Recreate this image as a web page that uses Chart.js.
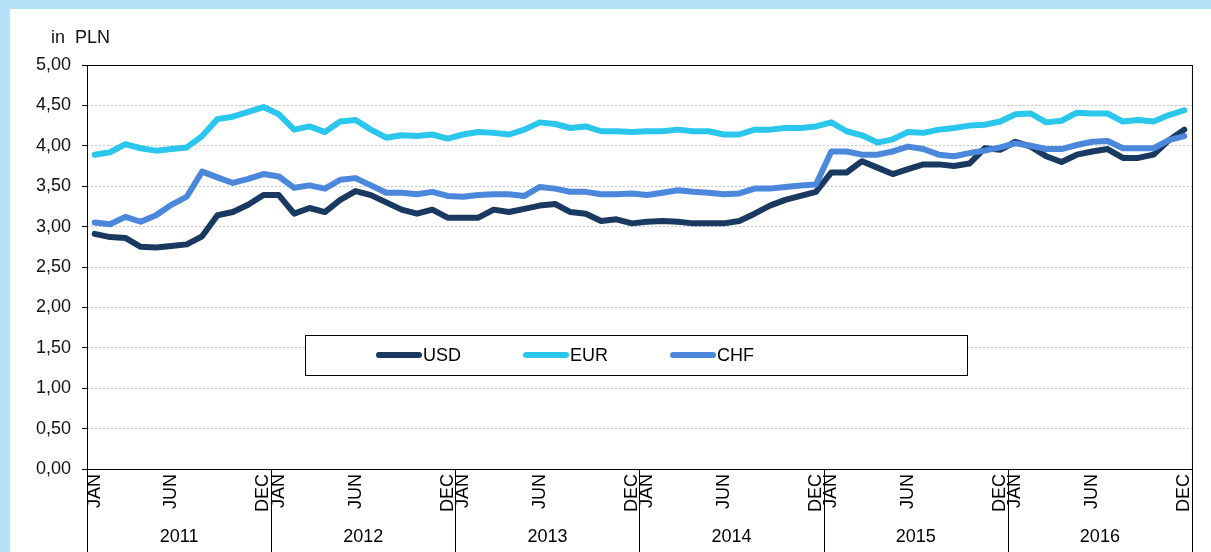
<!DOCTYPE html>
<html lang="en">

<head>
  <meta charset="UTF-8">
  <title>Exchange rates in PLN</title>
  <script src="https://cdn.jsdelivr.net/npm/chart.js"></script>
  <style>
    html, body { margin: 0; padding: 0; }
    body { background: #b5e0f7; width: 1211px; height: 552px; overflow: hidden; position: relative; }
    .panel { position: absolute; left: 10px; top: 9px; width: 1201px; height: 543px; background: #fff; }
  </style>
</head>

<body>
  <div class="panel">
    <canvas id="rates" width="1201" height="543"></canvas>
  </div>

  <script>
    // data (monthly averages, PLN)
    const years = ['2011', '2012', '2013', '2014', '2015', '2016'];
    const monthNames = ['JAN', '', '', '', '', 'JUN', '', '', '', '', '', 'DEC'];

    const usd = [
      2.91, 2.87, 2.86, 2.75, 2.74, 2.76, 2.78, 2.88, 3.14, 3.18, 3.27, 3.39,
      3.39, 3.16, 3.23, 3.18, 3.33, 3.44, 3.39, 3.30, 3.21, 3.16, 3.21, 3.11,
      3.11, 3.11, 3.21, 3.18, 3.22, 3.26, 3.28, 3.18, 3.16, 3.07, 3.09, 3.04,
      3.06, 3.07, 3.06, 3.04, 3.04, 3.04, 3.07, 3.16, 3.26, 3.33, 3.38, 3.43,
      3.67, 3.67, 3.81, 3.73, 3.65, 3.71, 3.77, 3.77, 3.75, 3.78, 3.97, 3.95,
      4.05, 3.99, 3.87, 3.80, 3.89, 3.93, 3.96, 3.85, 3.85, 3.89, 4.07, 4.20
    ];
    const eur = [
      3.89, 3.92, 4.02, 3.97, 3.94, 3.96, 3.98, 4.12, 4.33, 4.36, 4.42, 4.48,
      4.39, 4.20, 4.24, 4.17, 4.30, 4.32, 4.20, 4.10, 4.13, 4.12, 4.14, 4.09,
      4.14, 4.17, 4.16, 4.14, 4.20, 4.29, 4.27, 4.22, 4.24, 4.18, 4.18, 4.17,
      4.18, 4.18, 4.20, 4.18, 4.18, 4.14, 4.14, 4.20, 4.20, 4.22, 4.22, 4.24,
      4.29, 4.18, 4.13, 4.04, 4.08, 4.17, 4.16, 4.20, 4.22, 4.25, 4.26, 4.30,
      4.39, 4.40, 4.29, 4.31, 4.41, 4.40, 4.40, 4.30, 4.32, 4.30, 4.38, 4.44
    ];
    const chf = [
      3.05, 3.03, 3.12, 3.06, 3.14, 3.27, 3.37, 3.68, 3.61, 3.54, 3.59, 3.65,
      3.62, 3.48, 3.51, 3.47, 3.58, 3.60, 3.51, 3.42, 3.42, 3.40, 3.43, 3.38,
      3.37, 3.39, 3.40, 3.40, 3.38, 3.49, 3.47, 3.43, 3.43, 3.40, 3.40, 3.41,
      3.39, 3.42, 3.45, 3.43, 3.42, 3.40, 3.41, 3.47, 3.47, 3.49, 3.51, 3.52,
      3.93, 3.93, 3.89, 3.89, 3.93, 3.99, 3.96, 3.89, 3.87, 3.91, 3.94, 3.98,
      4.03, 4.00, 3.96, 3.96, 4.01, 4.05, 4.06, 3.97, 3.97, 3.97, 4.07, 4.12
    ];

    const labels = [];
    years.forEach(() => monthNames.forEach(m => labels.push(m)));

    const FONT = '"Liberation Sans", Arial, sans-serif';

    // black frame around the plot + "in PLN" unit
    const framePlugin = {
      id: 'frame',
      beforeDatasetsDraw(chart) {
        const { ctx, chartArea: a } = chart;
        ctx.save();
        ctx.strokeStyle = '#000';
        ctx.lineWidth = 1;
        ctx.strokeRect(a.left + 0.5, a.top + 0.5, a.right - a.left, a.bottom - a.top);
        ctx.fillStyle = '#111';
        ctx.font = '18px ' + FONT;
        ctx.textBaseline = 'middle';
        ctx.fillText('in  PLN', 41, 29);
        ctx.restore();
      }
    };

    // boxed legend sitting inside the plot
    const legendBox = {
      id: 'legendBox',
      afterDatasetsDraw(chart) {
        const { ctx, chartArea: a } = chart;
        const x = a.left + 218, y = a.top + 270, w = 662, h = 40;
        ctx.save();
        ctx.fillStyle = '#fff';
        ctx.fillRect(x, y, w, h);
        ctx.strokeStyle = '#000';
        ctx.lineWidth = 1;
        ctx.strokeRect(x + 0.5, y + 0.5, w, h);
        ctx.font = '18px ' + FONT;
        ctx.textBaseline = 'middle';
        [0, 1, 2].forEach((di, k) => {
          const ds = chart.data.datasets[di];
          const sx = x + 74 + k * 147, sy = y + h / 2;
          ctx.strokeStyle = ds.borderColor;
          ctx.lineWidth = 6;
          ctx.lineCap = 'round';
          ctx.beginPath();
          ctx.moveTo(sx, sy);
          ctx.lineTo(sx + 40, sy);
          ctx.stroke();
          ctx.fillStyle = '#000';
          ctx.fillText(ds.label, sx + 44, sy + 1);
        });
        ctx.restore();
      }
    };

    // year row under the month labels
    const yearRow = {
      id: 'yearRow',
      afterDraw(chart) {
        const { ctx, chartArea: a } = chart;
        const xs = chart.scales.x;
        const bottom = chart.height;
        const half = (xs.getPixelForValue(1) - xs.getPixelForValue(0)) / 2;
        ctx.save();
        ctx.strokeStyle = '#000';
        ctx.lineWidth = 1;
        ctx.font = '18px ' + FONT;
        ctx.fillStyle = '#000';
        ctx.textAlign = 'center';
        ctx.textBaseline = 'middle';
        years.forEach((yr, i) => {
          const first = i * 12, last = first + 11;
          const p0 = xs.getPixelForValue(first), p1 = xs.getPixelForValue(last);
          const left = Math.round(p0 - half) + 0.5;
          ctx.beginPath();
          ctx.moveTo(left, a.bottom);
          ctx.lineTo(left, bottom);
          ctx.stroke();
          if (i === years.length - 1) {
            const right = Math.round(p1 + half) + 0.5;
            ctx.beginPath();
            ctx.moveTo(right, a.bottom);
            ctx.lineTo(right, bottom);
            ctx.stroke();
          }
          ctx.fillText(yr, (p0 + p1) / 2, 528);
        });
        ctx.restore();
      }
    };

    const line = (label, data, color, order) => ({
      label, data, order,
      borderColor: color,
      backgroundColor: color,
      borderWidth: 6,
      borderCapStyle: 'round',
      borderJoinStyle: 'round',
      pointRadius: 0,
      tension: 0,
      fill: false
    });

    new Chart(document.getElementById('rates'), {
      type: 'line',
      data: {
        labels: labels,
        datasets: [
          line('USD', usd, '#1a3961', 2),
          line('EUR', eur, '#2bc6eb', 1),
          line('CHF', chf, '#4b87db', 0)
        ]
      },
      options: {
        responsive: false,
        animation: false,
        layout: { padding: { left: 0, top: 56, right: 16, bottom: 0 } },
        plugins: { legend: { display: false }, tooltip: { enabled: false } },
        scales: {
          x: {
            type: 'category',
            offset: true,
            grid: { display: false, drawTicks: false },
            border: { display: false },
            ticks: {
              autoSkip: false,
              maxRotation: 90,
              minRotation: 90,
              padding: 5,
              color: '#000',
              font: { family: FONT, size: 18 }
            },
            afterFit(scale) { scale.height = 83; }
          },
          y: {
            min: 0,
            max: 5,
            grid: { color: '#c4c4c4', tickColor: '#000', tickLength: 5, lineWidth: 1 },
            border: { display: false, dash: [2, 2] },
            ticks: {
              stepSize: 0.5,
              padding: 11,
              color: '#111',
              font: { family: FONT, size: 18 },
              callback: v => v.toFixed(2).replace('.', ',')
            },
            afterFit(scale) { scale.width = 77; }
          }
        }
      },
      plugins: [framePlugin, legendBox, yearRow]
    });
  </script>
</body>

</html>
